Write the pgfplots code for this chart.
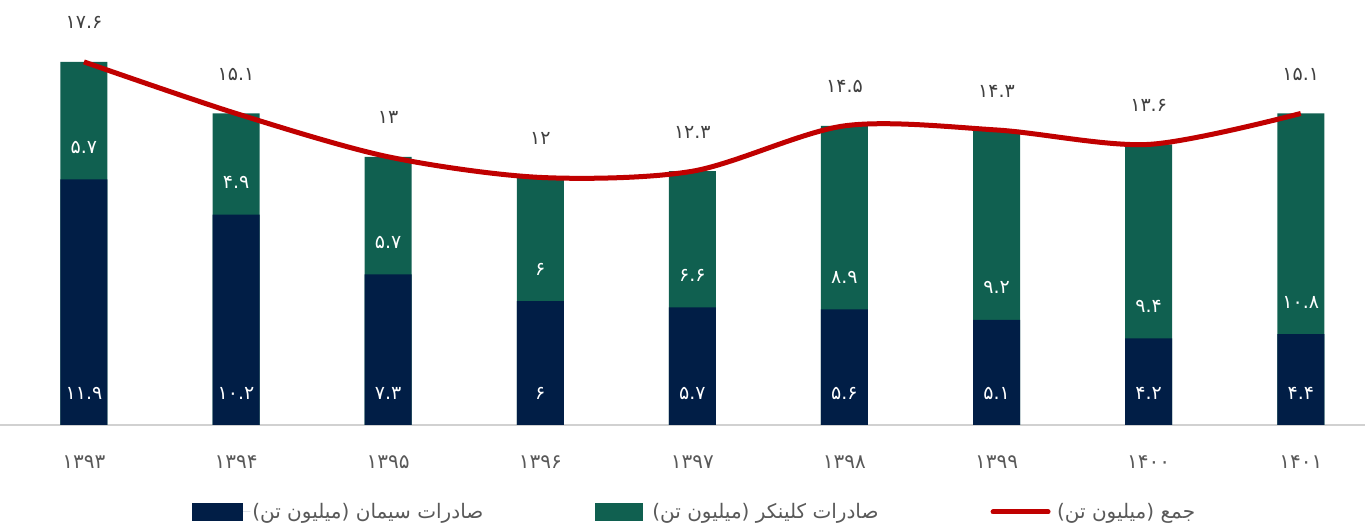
\documentclass[border=0pt]{standalone}
\usepackage{pgfplots}
\pgfplotsset{compat=1.18}
\usepackage{pgfplotstable}
\usepackage{fontspec}
\setmainfont{DejaVu Sans}
\newfontfamily\fa{DejaVu Sans}
\newfontfamily\arabicfont[Script=Arabic]{DejaVu Sans}
\TeXXeTstate=1
\definecolor{cnavy}{RGB}{1,30,70}
\definecolor{cgreen}{RGB}{16,96,80}
\definecolor{cred}{RGB}{192,0,0}
\definecolor{clab}{RGB}{64,64,64}
\definecolor{ctick}{RGB}{89,89,89}
\def\faD#1{\ifx#1..\else\ifcase#1\relax ۰\or ۱\or ۲\or ۳\or ۴\or ۵\or ۶\or ۷\or ۸\or ۹\fi\fi}
\def\toFa#1{\faLoop#1\relax}
\def\faLoop#1{\ifx#1\relax\else\faD#1\expandafter\faLoop\fi}
\pgfplotstableread{
x year cement clinker total
0 1393 11.9 5.7 17.6
1 1394 10.2 4.9 15.1
2 1395 7.3 5.7 13
3 1396 6 6 12
4 1397 5.7 6.6 12.3
5 1398 5.6 8.9 14.5
6 1399 5.1 9.2 14.3
7 1400 4.2 9.4 13.6
8 1401 4.4 10.8 15.1
}\data
\begin{document}
\begin{tikzpicture}
\begin{axis}[
  scale only axis, width=1365pt, height=425pt,
  xmin=-0.552, xmax=8.422, ymin=0, ymax=20.6,
  clip=false,
  axis x line*=bottom, hide y axis,
  x axis line style={-, draw=black!18, line width=1.2pt},
  xtick={0,...,8}, xtick style={draw=none},
  xticklabels={{\toFa{1393}},{\toFa{1394}},{\toFa{1395}},{\toFa{1396}},{\toFa{1397}},{\toFa{1398}},{\toFa{1399}},{\toFa{1400}},{\toFa{1401}}},
  xticklabel style={font=\fa\fontsize{20}{22}\selectfont, text=ctick, anchor=center, yshift=-37pt},
  legend columns=3,
  legend style={draw=none, fill=none, at={(0.509,-0.2047)}, anchor=center,
    font=\arabicfont\fontsize{20}{22}\selectfont, text=ctick,
    /tikz/every even column/.append style={column sep=110pt}},
]
% clinker (drawn to total height, cement overlaid)
\addplot[ybar, bar width=47pt, bar shift=0pt, fill=cgreen, draw=none, forget plot]
  table[x=x, y=total] {\data};
% cement
\addplot[ybar, bar width=47pt, bar shift=0pt, fill=cnavy, draw=none,
  legend image code/.code={\fill[cnavy] (0pt,-9pt) rectangle (51pt,9pt); \path[draw=none] (0pt,0pt) -- (58pt,0pt);}]
  table[x=x, y=cement] {\data};
\addlegendimage{draw=none, legend image code/.code={\fill[cgreen] (0pt,-9pt) rectangle (48pt,9pt); \path[draw=none] (0pt,0pt) -- (55pt,0pt);}}
% total line
\addplot[cred, line width=5pt, smooth, mark=none,
  nodes near coords={\fa\expandafter\toFa\expandafter{\pgfplotspointmeta}},
  point meta=explicit symbolic,
  every node near coord/.append style={anchor=center, yshift=39pt, text=clab, font=\fa\fontsize{19}{21}\selectfont},
  legend image code/.code={\draw[cred, line width=5pt, line cap=round] (0pt,0pt) -- (55pt,0pt); \path[draw=none] (0pt,0pt) -- (62pt,0pt);}]
  table[x=x, y=total, meta=total] {\data};
% labels inside bars
\addplot[only marks, mark=none, forget plot,
  nodes near coords={\fa\expandafter\toFa\expandafter{\pgfplotspointmeta}},
  point meta=explicit symbolic,
  every node near coord/.append style={anchor=center, text=white, font=\fa\fontsize{19}{21}\selectfont}]
  table[x=x, y expr=1.55, meta=cement] {\data};
\addplot[only marks, mark=none, forget plot,
  nodes near coords={\fa\expandafter\toFa\expandafter{\pgfplotspointmeta}},
  point meta=explicit symbolic,
  every node near coord/.append style={anchor=center, text=white, font=\fa\fontsize{19}{21}\selectfont}]
  table[x=x, y expr=\thisrow{cement}+1.55, meta=clinker] {\data};
\legend{{\beginR صادرات سیمان (میلیون تن)\endR},{\beginR صادرات کلینکر (میلیون تن)\endR},{\beginR جمع (میلیون تن)\endR}}
\end{axis}
\pgfresetboundingbox
\path (0pt,-99pt) rectangle (1365pt,425pt);
\end{tikzpicture}
\end{document}
